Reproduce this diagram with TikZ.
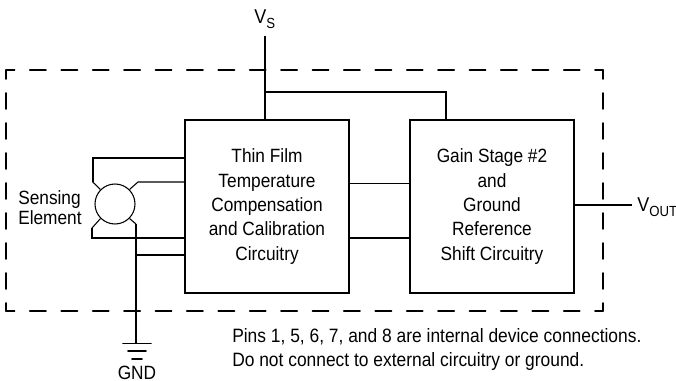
\documentclass[tikz,border=0pt]{standalone}
\usepackage{fontspec}
\setmainfont[FakeStretch=0.9]{Liberation Sans}
\usepackage{tkz-euclide}
\tikzset{
	blockbox/.style={draw, line width=1.4pt, minimum width=123pt, minimum height=130pt, inner sep=0pt, align=center, font=\fontsize{14.4}{18.3}\selectfont},
	label text/.style={inner sep=0pt, align=left, font=\fontsize{14.4}{15}\selectfont},
	note text/.style={inner sep=0pt, align=left, font=\fontsize{14.5}{18}\selectfont},
	pin text/.style={inner sep=0pt, font=\fontsize{15}{16}\selectfont},
	heavy/.style={line width=1.4pt},
	light/.style={line width=0.8pt},
	hdash/.style={line width=1.4pt, dash pattern=on 12pt off 11.55pt, dash phase=5.6pt},
	vdash/.style={line width=1.4pt, dash pattern=on 12pt off 10.5pt, dash phase=6pt}
}
\newcommand{\myPin}[1]{V\raisebox{-3.5pt}{\fontsize{11}{12}\selectfont #1}}

\begin{document}
\begin{tikzpicture}[x=0.75pt,y=-0.75pt]
	\useasboundingbox (0,0) rectangle (676,381);
	% outline corners
	\tkzDefPoints{6/70/NW, 603/70/NE, 6/311/SW, 603/311/SE}
	% dashed package outline
	\tkzDrawSegments[hdash](NW,NE SW,SE)
	\tkzDrawSegments[vdash](SW,NW SE,NE)
	% blocks
	\node[blockbox] (comp) at (267,206.5) {Thin Film\\Temperature\\Compensation\\and Calibration\\Circuitry};
	\node[blockbox] (gain) at (492,206.5) {Gain Stage \#2\\and\\Ground\\Reference\\Shift Circuitry};
	\node[circle, draw, light, minimum size=30pt, inner sep=0pt] (sense) at (115,204) {};
	% labels
	\node[label text, anchor=west] (senselabel) at (18,208) {Sensing\\Element};
	\node[pin text, anchor=base west] (vs) at (254,24) {\myPin{S}};
	\node[pin text, anchor=base west] (vout) at (637,212) {\myPin{OUT}};
	\node[label text, anchor=base] (gnd) at (137,379.5) {GND};
	\node[note text, anchor=west] (note) at (232,350) {Pins 1, 5, 6, 7, and 8 are internal device connections.\\Do not connect to external circuitry or ground.};
	% wire points
	\tkzDefPoints{265/36/Vtop, 265/92/Vtee, 446/92/Gtee, 632/205/Oend}
	\tkzDefPoints{92.7/158/Aa, 92.7/182/Ab, 92/238/Bb, 92/228/Ba}
	\tkzDefPoints{138/182/Cb, 136/224/Db, 136/255/Dtee, 136/343.5/Gnd}
	\tkzDefPoints{349/183.5/Ma, 349/238/Mb}
	\tkzDefPoints{123/343.5/Ga, 151/343.5/Gb, 128/351/Gc, 146/351/Gd, 132/359/Ge, 142/359/Gf}
	% supply
	\draw[heavy] (Vtop) -- (Vtop |- comp.north);
	\draw[heavy] (Vtee) -- (Gtee) -- (Gtee |- gain.north);
	% bridge to first block
	\draw[heavy] (comp.west |- Aa) -- (Aa) -- (Ab);
	\draw[light] (Ab) -- (sense.135);
	\draw[light] (comp.west |- Cb) -- (Cb) -- (sense.45);
	\draw[heavy] (comp.west |- Bb) -- (Bb) -- (Ba);
	\draw[light] (Ba) -- (sense.225);
	\draw[light] (sense.315) -- (Db);
	\draw[heavy] (Db) -- (Gnd);
	\draw[heavy] (Dtee) -- (comp.west |- Dtee);
	% between blocks
	\draw[light] (Ma) -- (gain.west |- Ma);
	\draw[heavy] (Mb) -- (gain.west |- Mb);
	\draw[heavy] (gain.east |- Oend) -- (Oend);
	% ground symbol
	\tkzDrawSegments[heavy](Ga,Gb Gc,Gd Ge,Gf)
\end{tikzpicture}
\end{document}
